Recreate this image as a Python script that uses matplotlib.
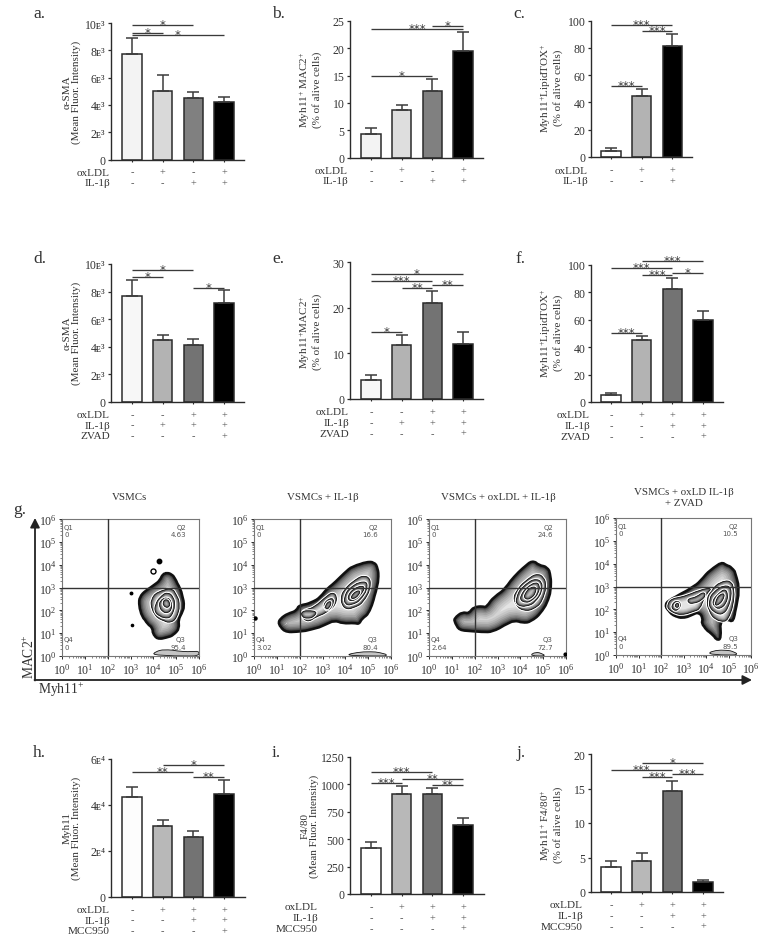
import numpy as np
import matplotlib
matplotlib.use("Agg")
import matplotlib.pyplot as plt
import matplotlib.ticker
from matplotlib.path import Path
from matplotlib.patches import PathPatch

plt.rcParams['font.family'] = ['Liberation Serif', 'DejaVu Serif', 'DejaVu Sans']
plt.rcParams['mathtext.fontset'] = 'custom'
plt.rcParams['mathtext.rm'] = 'Liberation Serif'
plt.rcParams['mathtext.default'] = 'regular'

W, H = 768, 945
DARK = '#2b2b2b'
TEXT = '#333333'

# ---------- bar values ---------- #
a_means = [7700, 5050, 4520, 4180]
a_tops = [8880, 6180, 4920, 4600]
b_means = [4.3, 8.7, 12.1, 19.5]
b_tops = [5.4, 9.7, 14.4, 23.0]
c_means = [4.7, 44.6, 81.7]
c_tops = [6.3, 49.8, 90.0]
d_means = [7670, 4510, 4150, 7200]
d_tops = [8860, 4880, 4590, 8080]
e_means = [4.2, 11.75, 20.95, 12.05]
e_tops = [5.2, 14.0, 23.7, 14.6]
f_means = [4.9, 45.0, 82.2, 59.9]
f_tops = [6.6, 48.4, 90.5, 66.7]
h_means = [43500, 30900, 26100, 44600]
h_tops = [47800, 33600, 28800, 51000]
i_means = [419, 910, 916, 634]
i_tops = [470, 983, 965, 695]
j_means = [3.66, 4.53, 14.6, 1.45]
j_tops = [4.48, 5.59, 16.1, 1.69]

# brackets: first bar, last bar, height, stars
a_brackets = [(0, 2, 9850, '*'), (0, 1, 9300, '*'), (0, 3, 9100, '*')]
b_brackets = [(0, 3, 23.5, '***'), (2, 3, 24.0, '*'), (0, 2, 14.9, '*')]
c_brackets = [(0, 2, 97, '***'), (1, 2, 92.2, '***'), (0, 1, 52, '***')]
d_brackets = [(0, 2, 9540, '*'), (0, 1, 9050, '*'), (2, 3, 8280, '*')]
e_brackets = [(0, 3, 27.4, '*'), (0, 2, 25.9, '***'), (1, 2, 24.3, '**'),
              (2, 3, 24.9, '**'), (0, 1, 14.6, '*')]
f_brackets = [(1, 3, 102.7, '***'), (0, 2, 97.8, '***'), (1, 2, 92.7, '***'),
              (2, 3, 94.4, '*'), (0, 1, 50.6, '***')]
h_brackets = [(1, 3, 57400, '*'), (0, 2, 54300, '**'), (2, 3, 52300, '**')]
i_brackets = [(0, 2, 1116, '***'), (1, 3, 1053, '**'), (0, 1, 1016, '***'), (2, 3, 992, '**')]
j_brackets = [(1, 3, 18.7, '*'), (0, 2, 17.7, '***'), (1, 2, 16.7, '***'), (2, 3, 17.06, '***')]

# treatment rows under the bars
rows_ab = [('oxLDL', '-+-+'), ('IL-1β', '--++')]
rows_c = [('oxLDL', '-++'), ('IL-1β', '--+')]
rows_de = [('oxLDL', '--++'), ('IL-1β', '-+++'), ('ZVAD', '---+')]
rows_f = [('oxLDL', '-+++'), ('IL-1β', '--++'), ('ZVAD', '---+')]
rows_hij = [('oxLDL', '-+++'), ('IL-1β', '--++'), ('MCC950', '---+')]

a_ticks = [0, 2000, 4000, 6000, 8000, 10000]
a_ticklabels = ['0', '2ᴇ³', '4ᴇ³', '6ᴇ³', '8ᴇ³', '10ᴇ³']
h_ticks = [0, 20000, 40000, 60000]
h_ticklabels = ['0', '2ᴇ⁴', '4ᴇ⁴', '6ᴇ⁴']

colors_a = ['#f3f3f3', '#d9d9d9', '#808080', 'black']
colors_b = ['#f3f3f3', '#dedede', '#808080', 'black']
colors_c = ['white', '#b3b3b3', 'black']
colors_d = ['#f7f7f7', '#b3b3b3', '#737373', 'black']
colors_h = ['#fdfdfd', '#b8b8b8', '#737373', 'black']


def make_axes(left, right, top, bottom, **kw):
    return plt.gcf().add_axes([left / W, 1 - bottom / H, (right - left) / W, (bottom - top) / H], **kw)


def put_text(x, y, s, **kw):
    kw.setdefault('color', TEXT)
    kw.setdefault('ha', 'center')
    kw.setdefault('va', 'center')
    plt.gcf().text(x / W, 1 - y / H, s, **kw)


def bar_panel(box, first, means, tops, colors, ticks, ticklabels, brackets, rows, row_off, label_right):
    left, right, top, bottom = box
    spacing = 30.7
    ax = make_axes(left, right, top, bottom)
    xpos = np.arange(len(means))
    errs = np.array(tops) - np.array(means)
    ax.bar(xpos, means, width=0.635, color=colors, edgecolor=DARK, linewidth=1.1,
           yerr=[np.zeros(len(means)), errs], ecolor='#3c3c3c',
           error_kw=dict(lw=1.1, capsize=4.0, capthick=1.1))
    ax.set_xlim((left - first) / spacing, (right - first) / spacing)
    ax.set_ylim(0, ticks[-1])
    ax.set_yticks(ticks)
    ax.set_yticklabels(ticklabels)
    ax.set_xticks(xpos)
    ax.set_xticklabels([])
    ax.tick_params(axis='y', length=2.5, width=0.9, pad=1.5, labelsize=8.5, color=DARK, labelcolor=TEXT)
    ax.tick_params(axis='x', length=1.5, width=0.8, color=DARK)
    ax.spines['top'].set_visible(False)
    ax.spines['right'].set_visible(False)
    ax.spines['left'].set_linewidth(1.0)
    ax.spines['bottom'].set_linewidth(1.0)
    ax.spines['left'].set_color(DARK)
    ax.spines['bottom'].set_color(DARK)
    ax.patch.set_alpha(0)

    for start, end, height, stars in brackets:
        ax.plot([start, end], [height, height], color='#3a3a3a', lw=0.95, clip_on=False, solid_capstyle='butt')
        ax.annotate(stars, xy=((start + end) / 2, height), xytext=(0, -3), textcoords='offset pixels',
                    ha='center', va='baseline', fontsize=8.5, family='DejaVu Sans', color='#3a3a3a',
                    annotation_clip=False)

    for n, (name, signs) in enumerate(rows):
        off = row_off + n * 10.6
        ax.annotate(name, xy=(0, 0), xycoords='axes fraction',
                    xytext=(label_right - left, -off), textcoords='offset pixels',
                    ha='right', va='center', fontsize=8.1, color=TEXT, annotation_clip=False)
        for x, sign in zip(xpos, signs):
            ax.annotate(sign, xy=(x, 0), xycoords=('data', 'axes fraction'), xytext=(0, -off),
                        textcoords='offset pixels', ha='center', va='center', fontsize=7.5,
                        color='#555555', annotation_clip=False)
    return ax


fig = plt.figure(figsize=(W / 100, H / 100), dpi=100, facecolor='white')

bar_panel((111, 244, 24, 160.5), 132, a_means, a_tops, colors_a, a_ticks, a_ticklabels, a_brackets, rows_ab, 12.5, 110)
bar_panel((350, 483, 21.7, 158.7), 371, b_means, b_tops, colors_b, [0, 5, 10, 15, 20, 25],
          ['0', '5', '10', '15', '20', '25'], b_brackets, rows_ab, 12.5, 348)
bar_panel((591, 692, 21.7, 158), 611, c_means, c_tops, colors_c, [0, 20, 40, 60, 80, 100],
          ['0', '20', '40', '60', '80', '100'], c_brackets, rows_c, 13, 588)
bar_panel((111, 244, 265, 403), 132, d_means, d_tops, colors_d, a_ticks, a_ticklabels, d_brackets, rows_de, 12.5, 110)
bar_panel((350, 483, 263, 400), 371, e_means, e_tops, colors_d, [0, 10, 20, 30],
          ['0', '10', '20', '30'], e_brackets, rows_de, 13, 349)
bar_panel((591, 723, 266, 403), 611, f_means, f_tops, ['white', '#b3b3b3', '#737373', 'black'],
          [0, 20, 40, 60, 80, 100], ['0', '20', '40', '60', '80', '100'], f_brackets, rows_f, 13, 590)
bar_panel((111, 245, 760, 898), 132, h_means, h_tops, colors_h, h_ticks, h_ticklabels, h_brackets, rows_hij, 12.5, 110)
bar_panel((350, 484, 758, 895), 371, i_means, i_tops, ['white', '#b8b8b8', '#737373', 'black'],
          [0, 250, 500, 750, 1000, 1250], ['0', '250', '500', '750', '1000', '1250'], i_brackets, rows_hij, 13, 318)
bar_panel((591, 723, 755, 893), 611, j_means, j_tops, ['white', '#b8b8b8', '#737373', 'black'],
          [0, 5, 10, 15, 20], ['0', '5', '10', '15', '20'], j_brackets, rows_hij, 13, 583)

# ---------- y labels ---------- #
ylabel_kw = dict(rotation=90, fontsize=8.0, linespacing=1.05)
put_text(72, 92, 'α-SMA\n(Mean Fluor. Intensity)', **ylabel_kw)
put_text(310, 90, 'Myh11$^{+}$ MAC2$^{+}$\n(% of alive cells)', **ylabel_kw)
put_text(551, 88, 'Myh11$^{+}$LipidTOX$^{+}$\n(% of alive cells)', **ylabel_kw)
put_text(72, 333, 'α-SMA\n(Mean Fluor. Intensity)', **ylabel_kw)
put_text(310, 332, 'Myh11$^{+}$MAC2$^{+}$\n(% of alive cells)', **ylabel_kw)
put_text(551, 333, 'Myh11$^{+}$LipidTOX$^{+}$\n(% of alive cells)', **ylabel_kw)
put_text(72, 828, 'Myh11\n(Mean Fluor. Intensity)', **ylabel_kw)
put_text(310, 826, 'F4/80\n(Mean Fluor. Intensity)', **ylabel_kw)
put_text(551, 825, 'Myh11$^{+}$ F4/80$^{+}$\n(% of alive cells)', **ylabel_kw)

# ---------- panel letters ---------- #
for letter, x, y in [('a.', 33, 14), ('b.', 272, 14), ('c.', 513, 14),
                     ('d.', 33, 259), ('e.', 272, 259), ('f.', 516, 259),
                     ('g.', 13, 510), ('h.', 33, 753), ('i.', 272, 753), ('j.', 516, 753)]:
    put_text(x, y, letter, ha='left', fontsize=12.5)

# ---------- flow plots, contours traced in decades (log10 x, log10 y) ---------- #
g1_outer = [(4.58, 3.65), (4.80, 3.58), (4.95, 3.39), (5.05, 3.17), (5.17, 2.95), (5.28, 2.58), (5.36, 2.15),
            (5.24, 1.85), (5.09, 1.56), (5.14, 1.20), (4.88, 0.91), (4.55, 0.80), (4.15, 0.73), (3.97, 0.98),
            (3.97, 1.20), (3.74, 1.39), (3.49, 1.71), (3.37, 2.15), (3.39, 2.58), (3.64, 2.85), (4.00, 3.09),
            (4.29, 3.31), (4.41, 3.58)]
g1_rings = [[(4.15, 2.80), (4.73, 2.99), (5.02, 2.66), (5.17, 2.15), (5.02, 1.64), (4.66, 1.42), (4.15, 1.64),
             (3.93, 2.0), (3.88, 2.44)],
            [(4.58, 2.80), (4.88, 2.58), (4.95, 2.15), (4.80, 1.71), (4.44, 1.64), (4.07, 1.85), (4.07, 2.22),
             (4.29, 2.58)],
            [(4.58, 2.58), (4.80, 2.36), (4.80, 2.0), (4.51, 1.85), (4.26, 2.07), (4.29, 2.44)],
            [(4.55, 2.51), (4.73, 2.32), (4.70, 2.15), (4.51, 2.12), (4.39, 2.32)]]
g1_bottom = [(3.93, 0), (4.1, 0.2), (4.44, 0.29), (5.02, 0.22), (5.46, 0.18), (6, 0.22), (6, 0)]
g1_dots = [(4.25, 4.18, 'k', 3.2), (3.97, 3.71, 'w', 3.6), (3.01, 2.77, 'k', 1.8), (3.07, 1.37, 'k', 1.6)]

g2_outer = [(1.05, 1.39), (1.15, 1.64), (1.45, 1.85), (1.88, 2.0), (1.96, 2.22), (2.47, 2.32), (2.91, 2.58),
            (3.20, 2.95), (3.56, 3.24), (3.93, 3.61), (4.29, 3.93), (4.88, 4.12), (5.24, 4.12), (5.43, 3.82),
            (5.46, 3.31), (5.34, 2.80), (5.20, 2.29), (5.02, 1.85), (4.73, 1.64), (4.61, 1.39), (4.36, 1.45),
            (3.85, 1.42), (3.49, 1.56), (3.05, 1.34), (2.47, 1.15), (1.81, 1.05), (1.30, 1.05)]
g2_rings = [[(3.78, 2.44), (3.93, 2.88), (4.29, 3.24), (4.73, 3.53), (5.09, 3.39), (5.09, 2.88), (4.80, 2.36),
             (4.29, 2.07), (3.93, 2.07)],
            [(3.93, 2.51), (4.15, 2.95), (4.58, 3.24), (4.95, 3.24), (4.95, 2.88), (4.66, 2.44), (4.22, 2.22),
             (4.0, 2.26)],
            [(4.07, 2.58), (4.36, 2.95), (4.73, 3.09), (4.85, 2.95), (4.61, 2.58), (4.22, 2.36)],
            [(4.22, 2.58), (4.47, 2.85), (4.66, 2.85), (4.58, 2.66), (4.34, 2.48)],
            [(2.10, 2.0), (2.66, 2.15), (3.05, 2.51), (3.42, 2.80), (3.64, 2.58), (3.56, 2.22), (3.20, 1.93),
             (2.69, 1.71), (2.39, 1.49), (2.10, 1.64)],
            [(3.01, 2.22), (3.27, 2.51), (3.49, 2.51), (3.46, 2.22), (3.20, 1.93)],
            [(3.12, 2.22), (3.30, 2.41), (3.39, 2.32), (3.30, 2.12), (3.15, 2.03)],
            [(2.07, 1.93), (2.32, 2.0), (2.76, 1.93), (2.61, 1.71), (2.32, 1.64), (2.10, 1.71)]]
g2_bottom = [(4.0, 0), (4.29, 0.13), (4.88, 0.20), (5.53, 0.15), (5.9, 0)]
g2_dots = [(0.03, 1.68, 'k', 2.2)]

g3_outer = [(1.08, 1.64), (1.45, 1.93), (1.74, 1.85), (1.96, 2.15), (2.32, 2.18), (2.51, 2.12), (2.83, 2.58),
            (3.34, 2.95), (3.71, 3.46), (4.07, 3.82), (4.51, 4.19), (4.80, 3.97), (5.17, 3.90), (5.34, 3.46),
            (5.34, 2.80), (5.17, 2.29), (4.88, 1.85), (4.44, 1.49), (4.07, 1.45), (3.71, 1.56), (3.27, 1.34),
            (2.76, 1.05), (2.25, 1.05), (1.81, 1.09), (1.30, 1.12), (1.15, 1.42)]
g3_rings = [[(3.69, 2.44), (3.80, 2.80), (4.15, 3.24), (4.66, 3.61), (5.02, 3.46), (5.14, 2.95), (4.95, 2.36),
             (4.51, 2.0), (3.93, 2.0)],
            [(3.80, 2.51), (4.07, 3.02), (4.58, 3.39), (4.95, 3.24), (4.95, 2.80), (4.66, 2.36), (4.22, 2.15),
             (3.85, 2.22)],
            [(3.97, 2.58), (4.29, 3.02), (4.66, 3.24), (4.85, 3.09), (4.80, 2.73), (4.44, 2.36), (4.07, 2.36)],
            [(4.15, 2.66), (4.44, 3.02), (4.70, 3.02), (4.66, 2.73), (4.44, 2.51), (4.22, 2.48)]]
g3_bottom = [(4.36, 0), (4.66, 0.18), (4.95, 0.10), (5.1, 0)]
g3_dots = [(5.97, 0.1, 'k', 2.0)]

g4_outer = [(2.16, 2.10), (2.31, 2.39), (2.83, 2.66), (3.35, 2.95), (3.72, 3.20), (4.16, 3.71), (4.68, 4.07),
            (4.90, 3.93), (5.13, 3.85), (5.38, 3.34), (5.47, 2.69), (5.35, 2.10), (5.23, 1.40), (4.83, 1.59),
            (4.61, 1.37), (4.68, 0.72), (4.46, 0.64), (4.24, 0.93), (4.01, 1.08), (3.79, 1.37), (3.87, 1.59),
            (3.64, 1.88), (3.35, 1.74), (2.90, 1.59), (2.46, 1.74)]
g4_rings = [[(4.01, 2.18), (4.16, 2.76), (4.61, 3.20), (5.05, 3.27), (5.27, 2.76), (5.20, 2.10), (4.98, 1.52),
             (4.61, 1.45), (4.24, 1.66)],
            [(4.09, 2.18), (4.31, 2.76), (4.76, 3.05), (5.09, 2.98), (5.13, 2.54), (4.98, 2.03), (4.68, 1.74),
             (4.31, 1.88)],
            [(4.24, 2.25), (4.46, 2.61), (4.83, 2.91), (4.98, 2.61), (4.90, 2.25), (4.53, 1.96)],
            [(4.39, 2.28), (4.61, 2.66), (4.83, 2.69), (4.76, 2.39), (4.46, 2.13)],
            [(2.24, 2.10), (2.46, 2.47), (2.90, 2.54), (3.13, 2.61), (3.50, 2.76), (3.94, 2.91), (4.24, 2.91),
             (4.09, 2.76), (3.87, 2.39), (3.75, 2.03), (3.35, 1.88), (2.83, 1.74), (2.46, 1.88)],
            [(2.46, 2.18), (2.68, 2.39), (2.90, 2.22), (2.76, 1.96), (2.53, 1.96)],
            [(2.61, 2.20), (2.76, 2.29), (2.80, 2.13), (2.68, 2.06)],
            [(3.2, 2.47), (3.57, 2.54), (3.87, 2.76), (3.99, 2.61), (3.79, 2.39), (3.42, 2.25), (3.2, 2.28)]]
g4_bottom = [(4.09, 0), (4.24, 0.18), (4.76, 0.23), (5.27, 0.13), (5.42, 0)]
g4_dots = []

g_titles = ['VSMCs', 'VSMCs + IL-1β', 'VSMCs + oxLDL + IL-1β', 'VSMCs + oxLD IL-1β\n+ ZVAD']
g_quads = [('0', '4.63', '95.4', '0'), ('0', '16.6', '80.4', '3.02'),
           ('0', '24.6', '72.7', '2.64'), ('0', '10.5', '89.5', '0')]

# line widths and greys of the dark band just inside a contour
FADE_OUTER = [(20, '#d4d4d4'), (17, '#c6c6c6'), (14, '#b6b6b6'), (11.5, '#a4a4a4'), (9, '#909090'),
              (7, '#7a7a7a'), (5, '#606060'), (3.4, '#464646'), (2, '#2a2a2a')]
FADE_RING = [(7, '#d0d0d0'), (5.5, '#bcbcbc'), (4, '#a4a4a4'), (2.8, '#888888'), (1.8, '#666666')]
FADE_NONE = []


def smooth_path(points):
    # closed quadratic spline, the traced points are the control points
    pts = 10.0 ** np.array(points)
    nxt = np.roll(pts, -1, axis=0)
    mids = (pts + nxt) / 2
    verts = [mids[-1]]
    codes = [Path.MOVETO]
    for p, m in zip(pts, mids):
        verts += [p, m]
        codes += [Path.CURVE3, Path.CURVE3]
    return Path(np.array(verts), codes)


def draw_contour(ax, points, edge_lw, z, fade, fill='#e4e4e4', halo=1.6):
    path = smooth_path(points)
    if halo:
        ax.add_patch(PathPatch(path, fc='none', ec='white', lw=edge_lw + halo, zorder=z))
    body = PathPatch(path, fc=fill, ec='none', zorder=z)
    ax.add_patch(body)
    for width, shade in fade:
        stroke = PathPatch(path, fc='none', ec=shade, lw=width, zorder=z)
        ax.add_patch(stroke)
        stroke.set_clip_path(body)
    ax.add_patch(PathPatch(path, fc='none', ec='#111111', lw=edge_lw, zorder=z))


def flow_panel(box, outer, rings, bottom, dots, quads):
    ax = make_axes(*box)
    ax.set_xscale('log')
    ax.set_yscale('log')
    ax.set_xlim(1, 1e6)
    ax.set_ylim(1, 1e6)
    ax.set_xticks([10.0 ** k for k in range(7)])
    ax.set_yticks([10.0 ** k for k in range(7)])
    ax.xaxis.set_minor_locator(matplotlib.ticker.LogLocator(base=10, subs=range(2, 10), numticks=10))
    ax.yaxis.set_minor_locator(matplotlib.ticker.LogLocator(base=10, subs=range(2, 10), numticks=10))
    ax.xaxis.set_minor_formatter(matplotlib.ticker.NullFormatter())
    ax.yaxis.set_minor_formatter(matplotlib.ticker.NullFormatter())
    ax.tick_params(which='major', length=2.5, width=0.7, pad=1.5, labelsize=8.5, color=DARK, labelcolor=TEXT)
    ax.tick_params(which='minor', length=1.3, width=0.5, color='#555555')
    for side in ax.spines.values():
        side.set_color('#777777')
        side.set_linewidth(0.8)

    draw_contour(ax, outer, 1.8, 2, FADE_OUTER, halo=0)
    for n, ring in enumerate(rings):
        draw_contour(ax, ring, 0.6, 3 + n, FADE_RING)
    draw_contour(ax, bottom, 0.6, 2, FADE_NONE, fill='#c4c4c4', halo=0)
    for dx, dy, fill, size in dots:
        ax.plot(10 ** dx, 10 ** dy, 'o', ms=size, mfc=fill, mec='black', mew=1.0, zorder=6)

    ax.axvline(100, color='#333333', lw=1.0, zorder=20)
    ax.axhline(1000, color='#333333', lw=1.0, zorder=20)

    qkw = dict(transform=ax.transAxes, fontsize=5, family='DejaVu Sans', color='#555555', va='center',
               linespacing=1.25, zorder=21)
    ax.text(0.015, 0.916, 'Q1\n' + quads[0], ha='left', **qkw)
    ax.text(0.905, 0.916, 'Q2\n' + quads[1], ha='right', **qkw)
    ax.text(0.905, 0.095, 'Q3\n' + quads[2], ha='right', **qkw)
    ax.text(0.015, 0.095, 'Q4\n' + quads[3], ha='left', **qkw)


flow_panel((62, 199, 520, 657), g1_outer, g1_rings, g1_bottom, g1_dots, g_quads[0])
flow_panel((254, 391, 520, 657), g2_outer, g2_rings, g2_bottom, g2_dots, g_quads[1])
flow_panel((429, 566, 520, 657), g3_outer, g3_rings, g3_bottom, g3_dots, g_quads[2])
flow_panel((616, 751, 519, 656), g4_outer, g4_rings, g4_bottom, g4_dots, g_quads[3])

put_text(129, 498, g_titles[0], fontsize=7.8)
put_text(323, 498, g_titles[1], fontsize=7.8)
put_text(498, 498, g_titles[2], fontsize=7.8)
put_text(684, 498, g_titles[3], fontsize=7.8, linespacing=1.15)

# long arrows of the flow plots, in figure pixels
overlay = fig.add_axes([0, 0, 1, 1], facecolor='none')
overlay.set_xlim(0, W)
overlay.set_ylim(H, 0)
overlay.axis('off')
arrow_style = dict(arrowstyle='-|>,head_length=0.55,head_width=0.28', color='#222222', lw=1.3, shrinkA=0, shrinkB=0)
overlay.annotate('', xy=(35, 519), xytext=(35, 681.5), arrowprops=arrow_style)
overlay.annotate('', xy=(752, 681), xytext=(34.5, 681), arrowprops=arrow_style)
put_text(29, 657, 'MAC2$^{+}$', rotation=90, fontsize=9.8)
put_text(38, 690, 'Myh11$^{+}$', ha='left', fontsize=9.8)

fig.savefig('out.png', dpi=100, facecolor='white')
